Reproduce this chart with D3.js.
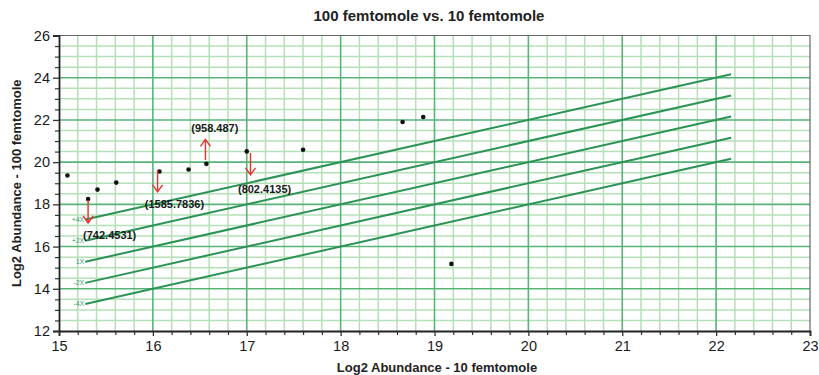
<!DOCTYPE html>
<html>
<head>
<meta charset="utf-8">
<script src="https://cdn.jsdelivr.net/npm/d3@7"></script>
<style>
  html, body { margin: 0; padding: 0; background: #fff; }
  svg { display: block; }
</style>
</head>
<body>
<svg id="chart" width="819" height="375"></svg>
<script>
// ---- data ----
const title = "100 femtomole vs. 10 femtomole";
const xTitle = "Log2 Abundance - 10 femtomole";
const yTitle = "Log2 Abundance - 100 femtomole";

const xTicks = [15, 16, 17, 18, 19, 20, 21, 22, 23];
const yTicks = [12, 14, 16, 18, 20, 22, 24, 26];

// measured points (log2 abundance 10 fmol, log2 abundance 100 fmol)
const pointX = [15.09, 15.31, 15.41, 15.61, 16.07, 16.38, 16.57, 17.0, 17.6, 18.66, 18.88, 19.18];
const pointY = [19.37, 18.25, 18.7, 19.03, 19.56, 19.65, 19.92, 20.51, 20.59, 21.9, 22.14, 15.18];

// fold-change reference lines (y = x + log2 fold)
const foldLabels = ["+4X", "+2X", "1X", "-2X", "-4X"];
const foldOffsets = [2, 1, 0, -1, -2];
const foldStart = 15.28;
const foldEnd = 22.16;

// annotations: arrows and values
const annX = [15.31, 16.05, 16.56, 17.04];
const annFrom = [18.21, 19.63, 20.1, 20.43];
const annTo = [17.12, 18.59, 21.08, 19.4];
const annLabels = ["(742.4531)", "(1585.7836)", "(958.487)", "(802.4135)"];
const annLabelX = [15.54, 16.23, 16.66, 17.19];
const annLabelY = [16.36, 17.83, 21.43, 18.54];

// ---- layout ----
const W = 819, H = 375;
const m = { left: 59, right: 9, top: 35.5, bottom: 44 };
const svg = d3.select("#chart");

const x = d3.scaleLinear().domain([15, 23]).range([m.left, W - m.right]);
const y = d3.scaleLinear().domain([12, 26]).range([H - m.bottom, m.top]);

const minorCol = "#b5e0b8";
const majorCol = "#58b578";
const lineCol = "#2c9255";
const font = "'Liberation Sans', Arial, Helvetica, sans-serif";

// grid
const g = svg.append("g");
const xMinor = d3.range(150, 231, 2).map(d => d / 10).filter(d => d % 1 !== 0);
const yMinor = d3.range(24, 53, 1).map(d => d / 2).filter(d => d % 2 !== 0);

g.selectAll(".vx").data(xMinor).join("line")
  .attr("x1", d => x(d)).attr("x2", d => x(d))
  .attr("y1", y(12)).attr("y2", y(26))
  .attr("stroke", minorCol).attr("stroke-width", 1.5);
g.selectAll(".hy").data(yMinor).join("line")
  .attr("y1", d => y(d)).attr("y2", d => y(d))
  .attr("x1", x(15)).attr("x2", x(23))
  .attr("stroke", minorCol).attr("stroke-width", 1.5);
g.selectAll(".vX").data(xTicks.slice(1, -1)).join("line")
  .attr("x1", d => x(d)).attr("x2", d => x(d))
  .attr("y1", y(12)).attr("y2", y(26))
  .attr("stroke", majorCol).attr("stroke-width", 1.6);
g.selectAll(".hY").data(yTicks.slice(1, -1)).join("line")
  .attr("y1", d => y(d)).attr("y2", d => y(d))
  .attr("x1", x(15)).attr("x2", x(23))
  .attr("stroke", majorCol).attr("stroke-width", 1.6);

// frame top/right
svg.append("path")
  .attr("d", `M${x(15)},${y(26)}H${x(23)}V${y(12)}`)
  .attr("fill", "none").attr("stroke", "#666").attr("stroke-width", 1.2);

// fold lines
const fl = svg.append("g");
foldOffsets.forEach((k, i) => {
  fl.append("line")
    .attr("x1", x(foldStart)).attr("y1", y(foldStart + k))
    .attr("x2", x(foldEnd)).attr("y2", y(foldEnd + k))
    .attr("stroke", lineCol).attr("stroke-width", 2);
  fl.append("text")
    .attr("x", x(foldStart) - 1).attr("y", y(foldStart + k) + 2.5)
    .attr("text-anchor", "end")
    .attr("font-family", font).attr("font-size", 7)
    .attr("fill", "#3aa060")
    .text(foldLabels[i]);
});

// axes
const xAxisMinor = d3.axisBottom(x).tickValues(xMinor).tickSize(4).tickFormat("");
const yAxisMinor = d3.axisLeft(y).tickValues(yMinor).tickSize(4).tickFormat("");
svg.append("g").attr("transform", `translate(0,${y(12)})`).call(xAxisMinor)
  .call(a => a.select(".domain").remove())
  .selectAll("line").attr("stroke", "#333").attr("stroke-width", 1.2);
svg.append("g").attr("transform", `translate(${x(15)},0)`).call(yAxisMinor)
  .call(a => a.select(".domain").remove())
  .selectAll("line").attr("stroke", "#333").attr("stroke-width", 1.2);

const xAxis = d3.axisBottom(x).tickValues(xTicks).tickSize(5).tickPadding(5).tickFormat(d3.format("d"));
const yAxis = d3.axisLeft(y).tickValues(yTicks).tickSize(6).tickPadding(3).tickFormat(d3.format("d"));
const xa = svg.append("g").attr("transform", `translate(0,${y(12)})`).call(xAxis);
const ya = svg.append("g").attr("transform", `translate(${x(15)},0)`).call(yAxis);
[xa, ya].forEach(a => {
  a.select(".domain").attr("stroke", "#222").attr("stroke-width", 1.8);
  a.selectAll(".tick line").attr("stroke", "#333").attr("stroke-width", 1.3);
  a.selectAll("text").attr("font-family", font).attr("font-size", 14.5).attr("fill", "#1a1a1a");
});

// points
svg.append("g").selectAll("circle").data(pointX).join("circle")
  .attr("cx", d => x(d)).attr("cy", (d, i) => y(pointY[i]))
  .attr("r", 2.3).attr("fill", "#111");

// annotations
const an = svg.append("g");
annX.forEach((ax, i) => {
  const px = x(ax), y0 = y(annFrom[i]), y1 = y(annTo[i]);
  const dir = y1 > y0 ? 1 : -1;
  an.append("path")
    .attr("d", `M${px},${y0}V${y1}M${px - 5},${y1 - dir * 7}L${px},${y1}L${px + 5},${y1 - dir * 7}`)
    .attr("fill", "none").attr("stroke", "#e4342c").attr("stroke-width", 1.4);
  an.append("text")
    .attr("x", x(annLabelX[i])).attr("y", y(annLabelY[i]))
    .attr("text-anchor", "middle")
    .attr("font-family", font).attr("font-size", 11).attr("font-weight", "bold")
    .attr("fill", "#1a1a1a")
    .text(annLabels[i]);
});

// titles
svg.append("text")
  .attr("x", 429).attr("y", 21)
  .attr("text-anchor", "middle")
  .attr("font-family", "'Liberation Sans Narrow', 'Arial Narrow', " + font)
  .attr("font-size", 15).attr("font-weight", "bold").attr("fill", "#222")
  .text(title);
svg.append("text")
  .attr("x", 437).attr("y", 372)
  .attr("text-anchor", "middle")
  .attr("font-family", font).attr("font-size", 13).attr("font-weight", "bold").attr("fill", "#222")
  .text(xTitle);
svg.append("text")
  .attr("transform", `translate(21,${(y(12) + y(26)) / 2}) rotate(-90)`)
  .attr("text-anchor", "middle")
  .attr("font-family", font).attr("font-size", 13).attr("font-weight", "bold").attr("fill", "#222")
  .text(yTitle);
</script>
</body>
</html>
